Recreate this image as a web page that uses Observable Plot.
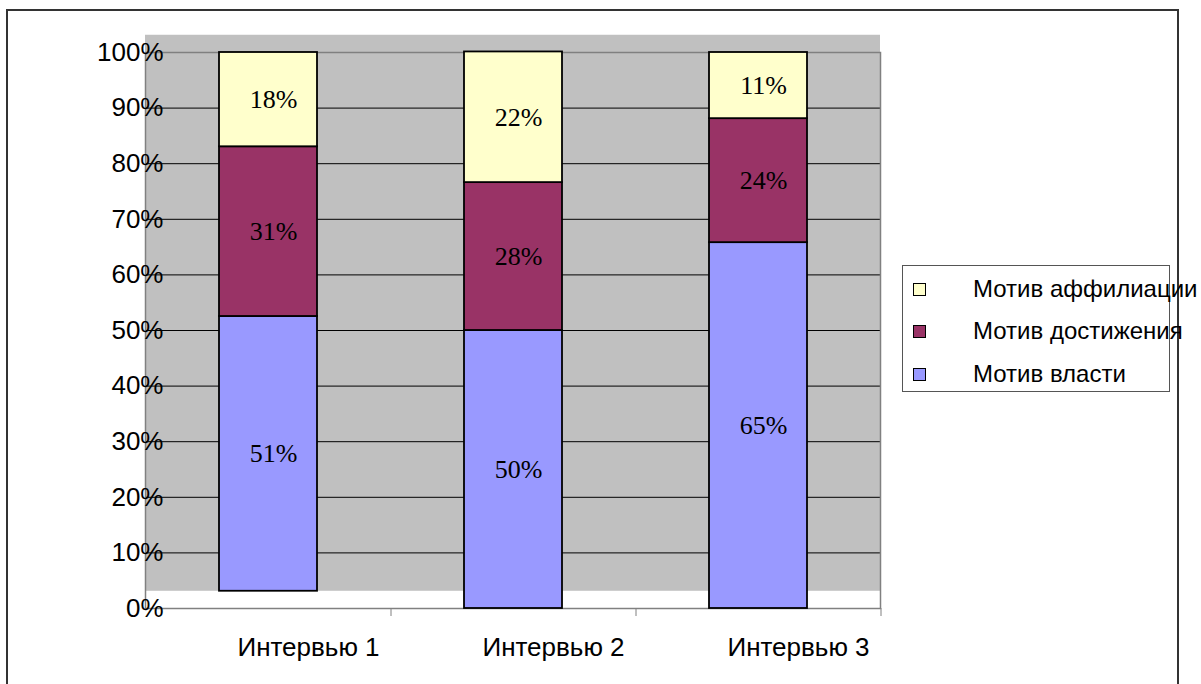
<!DOCTYPE html>
<html><head><meta charset="utf-8">
<script src="https://cdn.jsdelivr.net/npm/d3@7"></script>
<script src="https://cdn.jsdelivr.net/npm/@observablehq/plot@0.6"></script>
<style>
html,body{margin:0;padding:0;background:#fff;width:1201px;height:684px;overflow:hidden;}
#wrap{position:relative;width:1201px;height:684px;font-family:'Liberation Sans',Arial,sans-serif;}
#border{position:absolute;left:6px;top:9px;width:1169px;height:720px;border:2px solid #333;box-sizing:content-box;}
#chart{position:absolute;left:0;top:0;}
#legend{position:absolute;left:902px;top:265px;width:266px;height:125px;border:1.5px solid #555;background:#fff;}
.item{position:absolute;left:0;height:30px;display:flex;align-items:center;white-space:nowrap;}
.sw{position:absolute;left:10px;width:11px;height:11px;border:1.5px solid #000;}
.lt{position:absolute;left:70px;font-size:24px;color:#000;line-height:30px;}
</style>
</head><body>
<div id="wrap"><div id="border"></div><div id="chart"></div><div id="legend"></div></div>
<script>
const categories = ["Интервью 1", "Интервью 2", "Интервью 3"];
const seriesNames = ["Мотив власти", "Мотив достижения", "Мотив аффилиации"];
const power = [0.51, 0.50, 0.658];
const achievement = [0.315, 0.266, 0.223];
const affiliation = [0.175, 0.235, 0.119];
const powerLabels = ["51%", "50%", "65%"];
const achievementLabels = ["31%", "28%", "24%"];
const affiliationLabels = ["18%", "22%", "11%"];
const barBase = [0.031, 0, 0];
const yTicks = [0, 0.1, 0.2, 0.3, 0.4, 0.5, 0.6, 0.7, 0.8, 0.9, 1];
const colors = ["#9999FF", "#993366", "#FFFFCC"];

const seriesValues = [power, achievement, affiliation];
const seriesLabels = [powerLabels, achievementLabels, affiliationLabels];
const rows = [];
categories.forEach((cat, i) => {
  const b = barBase[i];
  let cum = 0;
  seriesNames.forEach((s, j) => {
    const v = seriesValues[j][i];
    rows.push({cat, series: s, y1: b + cum * (1 - b), y2: b + (cum + v) * (1 - b), label: seriesLabels[j][i]});
    cum += v;
  });
});

const chart = Plot.plot({
  width: 1201, height: 684,
  marginLeft: 145, marginRight: 321, marginTop: 52, marginBottom: 76,
  x: {domain: categories, paddingInner: 0.6, paddingOuter: 0.3, label: null},
  y: {domain: [0, 1], label: null},
  color: {domain: seriesNames, range: colors},
  style: {background: "transparent", fontFamily: "'Liberation Sans', Arial, sans-serif", color: "#000"},
  marks: [
    Plot.rect([barBase[0]], {y1: d => d, y2: d => d + 1, fill: "#C0C0C0"}),
    Plot.ruleY(yTicks.filter(t => t > 0 && t < 1), {stroke: "#000", strokeWidth: 1}),
    Plot.frame({stroke: "#808080", strokeWidth: 1.5}),
    Plot.barY(rows, {x: "cat", y1: "y1", y2: "y2", fill: "series", stroke: "#000", strokeWidth: 1.8}),
    Plot.text(rows, {x: "cat", y: d => (d.y1 + d.y2) / 2, text: "label", dx: 5,
      fontFamily: "'Liberation Serif', 'Times New Roman', serif", fontSize: 26, fill: "#000"}),
    Plot.axisX({tickSize: 8, tickFormat: () => "", dx: 122.5, stroke: "#808080", label: null}),
    Plot.axisX({tickSize: 0, tickPadding: 29, dx: 40, fontSize: 26, fill: "#000", label: null}),
    Plot.axisY({ticks: yTicks, tickFormat: d => Math.round(d * 100) + "%", tickSize: 0, tickPadding: 0, dx: 18, fontSize: 26, fill: "#000", label: null})
  ]
});
document.getElementById("chart").appendChild(chart);

const legend = document.getElementById("legend");
const order = [2, 1, 0];
const rowTops = [8, 50, 93];
order.forEach((j, k) => {
  const it = document.createElement("div");
  it.className = "item";
  it.style.top = rowTops[k] + "px";
  const sw = document.createElement("div");
  sw.className = "sw";
  sw.style.background = colors[j];
  const t = document.createElement("div");
  t.className = "lt";
  t.textContent = seriesNames[j];
  it.appendChild(sw);
  it.appendChild(t);
  legend.appendChild(it);
});
</script>
</body></html>
